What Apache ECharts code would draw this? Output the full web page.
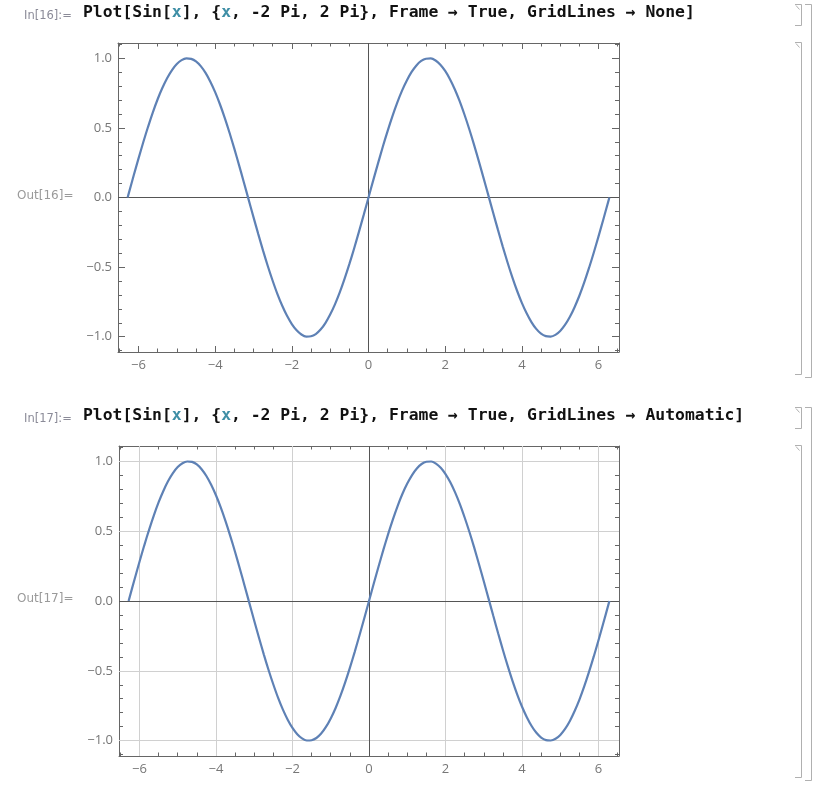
<!DOCTYPE html>
<html><head><meta charset="utf-8">
<script src="https://cdn.jsdelivr.net/npm/echarts@6/dist/echarts.min.js"></script>
<style>html,body{margin:0;padding:0;background:#fff}#c{width:815px;height:797px}</style>
</head><body><div id="c"></div>
<script>
// ---- data ----
const xValues = [
  -6.283, -6.25, -6.125, -6, -5.875, -5.75, -5.625, -5.5, -5.375, -5.25, -5.125, -5, -4.875, -4.75, -4.625, -4.5, -4.375, -4.25, -4.125, -4,
  -3.875, -3.75, -3.625, -3.5, -3.375, -3.25, -3.125, -3, -2.875, -2.75, -2.625, -2.5, -2.375, -2.25, -2.125, -2, -1.875, -1.75, -1.625, -1.5,
  -1.375, -1.25, -1.125, -1, -0.875, -0.75, -0.625, -0.5, -0.375, -0.25, -0.125,
  0, 0.125, 0.25, 0.375, 0.5, 0.625, 0.75, 0.875, 1, 1.125, 1.25, 1.375, 1.5, 1.625, 1.75, 1.875, 2, 2.125, 2.25, 2.375, 2.5, 2.625, 2.75, 2.875,
  3, 3.125, 3.25, 3.375, 3.5, 3.625, 3.75, 3.875, 4, 4.125, 4.25, 4.375, 4.5, 4.625, 4.75, 4.875, 5, 5.125, 5.25, 5.375, 5.5, 5.625, 5.75, 5.875,
  6, 6.125, 6.25, 6.283];
const sinValues = [
  0.000, 0.033, 0.158, 0.279, 0.397, 0.508, 0.612, 0.706, 0.788, 0.859, 0.916, 0.959, 0.987, 0.999, 0.996, 0.978, 0.944, 0.895, 0.832, 0.757,
  0.670, 0.572, 0.465, 0.351, 0.231, 0.108, -0.017, -0.141, -0.263, -0.382, -0.494, -0.598, -0.694, -0.778, -0.850, -0.909, -0.954, -0.984, -0.999, -0.997,
  -0.981, -0.949, -0.902, -0.841, -0.768, -0.682, -0.585, -0.479, -0.366, -0.247, -0.125,
  0.000, 0.125, 0.247, 0.366, 0.479, 0.585, 0.682, 0.768, 0.841, 0.902, 0.949, 0.981, 0.997, 0.999, 0.984, 0.954, 0.909, 0.850, 0.778, 0.694, 0.598, 0.494, 0.382, 0.263,
  0.141, 0.017, -0.108, -0.231, -0.351, -0.465, -0.572, -0.670, -0.757, -0.832, -0.895, -0.944, -0.978, -0.996, -0.999, -0.987, -0.959, -0.916, -0.859, -0.788, -0.706, -0.612, -0.508, -0.397,
  -0.279, -0.158, -0.033, 0.000];
const xMajorTicks = [-6, -4, -2, 0, 2, 4, 6];
const xMinorTicks = [-6.5, -5.5, -5, -4.5, -3.5, -3, -2.5, -1.5, -1, -0.5, 0.5, 1, 1.5, 2.5, 3, 3.5, 4.5, 5, 5.5, 6.5];
const yMajorTicks = [-1, -0.5, 0, 0.5, 1];
const yMinorTicks = [-1.1, -0.9, -0.8, -0.7, -0.6, -0.4, -0.3, -0.2, -0.1, 0.1, 0.2, 0.3, 0.4, 0.6, 0.7, 0.8, 0.9, 1.1];
const gridLinesX = [-6, -4, -2, 2, 4, 6];
const gridLinesY = [-1, -0.5, 0.5, 1];
const zeroLines = [0];
const inputLabels = ['In[16]:=', 'In[17]:='];
const outputLabels = ['Out[16]=', 'Out[17]='];
const codeEnds = ['None]', 'Automatic]'];
const showGrid = [false, true];

// ---- layout ----
const X_RANGE = [-6.534, 6.534];
const Y_RANGE = [-1.11, 1.11];
const gridsLayout = [
  {left: 118, top: 43, width: 501, height: 309},
  {left: 119, top: 446, width: 500, height: 310}
];
const FRAME = '#666666';
const LABEL = '#777777';
const minus = s => String(s).replace('-', '\u2212');

const chart = echarts.init(document.getElementById('c'), null, {renderer: 'canvas'});
const grid = [], xAxis = [], yAxis = [], series = [], graphic = [];

gridsLayout.forEach((g, gi) => {
  grid.push(Object.assign({containLabel: false}, g));
  const base = {gridIndex: gi, type: 'value', min: X_RANGE[0], max: X_RANGE[1], splitLine: {show: false}};
  const line = {show: true, onZero: false, lineStyle: {color: FRAME, width: 1}};
  const noLine = {show: false, onZero: false};
  const xi = xAxis.length;
  xAxis.push(Object.assign({}, base, {position: 'bottom', axisLine: line,
    axisTick: {show: true, inside: true, length: 6, customValues: xMajorTicks, lineStyle: {color: FRAME}},
    axisLabel: {show: true, customValues: xMajorTicks, formatter: v => minus(v), color: LABEL, fontSize: 13, fontFamily: 'Open Sans', margin: 7}}));
  xAxis.push(Object.assign({}, base, {position: 'bottom', axisLine: noLine,
    axisTick: {show: true, inside: true, length: 3.5, customValues: xMinorTicks, lineStyle: {color: FRAME}}, axisLabel: {show: false}}));
  xAxis.push(Object.assign({}, base, {position: 'top', axisLine: line,
    axisTick: {show: true, inside: true, length: 6, customValues: xMajorTicks, lineStyle: {color: FRAME}}, axisLabel: {show: false}}));
  xAxis.push(Object.assign({}, base, {position: 'top', axisLine: noLine,
    axisTick: {show: true, inside: true, length: 3.5, customValues: xMinorTicks, lineStyle: {color: FRAME}}, axisLabel: {show: false}}));

  const ybase = {gridIndex: gi, type: 'value', min: Y_RANGE[0], max: Y_RANGE[1], splitLine: {show: false}};
  const yi = yAxis.length;
  yAxis.push(Object.assign({}, ybase, {position: 'left', axisLine: line,
    axisTick: {show: true, inside: true, length: 7, customValues: yMajorTicks, lineStyle: {color: FRAME}},
    axisLabel: {show: true, customValues: yMajorTicks, formatter: v => minus(v.toFixed(1)), color: LABEL, fontSize: 13, fontFamily: 'Open Sans', margin: 6}}));
  yAxis.push(Object.assign({}, ybase, {position: 'left', axisLine: noLine,
    axisTick: {show: true, inside: true, length: 4, customValues: yMinorTicks, lineStyle: {color: FRAME}}, axisLabel: {show: false}}));
  yAxis.push(Object.assign({}, ybase, {position: 'right', axisLine: line,
    axisTick: {show: true, inside: true, length: 7, customValues: yMajorTicks, lineStyle: {color: FRAME}}, axisLabel: {show: false}}));
  yAxis.push(Object.assign({}, ybase, {position: 'right', axisLine: noLine,
    axisTick: {show: true, inside: true, length: 4, customValues: yMinorTicks, lineStyle: {color: FRAME}}, axisLabel: {show: false}}));

  // grid lines (plot 2 only)
  if (showGrid[gi]) {
    series.push({type: 'line', xAxisIndex: xi, yAxisIndex: yi, data: [], z: 1, silent: true,
      markLine: {silent: true, z: 1, symbol: 'none', label: {show: false},
        lineStyle: {color: '#d0d0d0', width: 1, type: 'solid'},
        data: gridLinesX.map(v => ({xAxis: v})).concat(gridLinesY.map(v => ({yAxis: v})))}});
  }
  // axes through origin
  series.push({type: 'line', xAxisIndex: xi, yAxisIndex: yi, data: [], z: 2, silent: true,
    markLine: {silent: true, z: 2, symbol: 'none', label: {show: false},
      lineStyle: {color: '#555555', width: 1, type: 'solid'},
      data: zeroLines.map(v => ({xAxis: v})).concat(zeroLines.map(v => ({yAxis: v})))}});
  // the curve
  series.push({type: 'line', xAxisIndex: xi, yAxisIndex: yi, z: 3,
    data: xValues.map((x, i) => [x, sinValues[i]]),
    showSymbol: false, smooth: 0.3, clip: true,
    lineStyle: {color: '#5E81B5', width: 2.2}});

  // notebook texts
  const dy = g.top - 43;
  graphic.push({type: 'text', left: 24, top: 10 + dy, style: {text: inputLabels[gi], fill: '#8b8b98', font: '11.5px "DejaVu Sans"'}});
  graphic.push({type: 'text', left: 83, top: 5 + dy, style: {
    text: 'Plot[Sin[{v|x}], {{v|x}, -2 Pi, 2 Pi}, Frame \u2192 True, GridLines \u2192 ' + codeEnds[gi],
    fill: '#111', font: 'bold 16.4px "DejaVu Sans Mono"',
    rich: {v: {fill: '#3f8fa6', font: 'bold 16.4px "DejaVu Sans Mono"'}}}});
  graphic.push({type: 'text', left: 17, top: g.top + g.height / 2 - 8, style: {text: outputLabels[gi], fill: '#9a9a9a', font: '12px "DejaVu Sans"'}});

  // cell brackets
  const br = '#b0b0b0';
  const inTop = 4.5 + dy, inBot = 25.5 + dy, outTop = 42.5 + dy, outBot = 374.5 + dy, grpBot = 377.5 + dy;
  graphic.push({type: 'polyline', shape: {points: [[795, inTop], [801.5, inTop], [801.5, inBot], [795, inBot]]}, style: {stroke: br, lineWidth: 1, fill: null}});
  graphic.push({type: 'line', shape: {x1: 796, y1: inTop + 1, x2: 799.5, y2: inTop + 5}, style: {stroke: br, lineWidth: 1}});
  graphic.push({type: 'polyline', shape: {points: [[795, outTop], [801.5, outTop], [801.5, outBot], [795, outBot]]}, style: {stroke: br, lineWidth: 1, fill: null}});
  graphic.push({type: 'line', shape: {x1: 796, y1: outTop + 1, x2: 799.5, y2: outTop + 5}, style: {stroke: br, lineWidth: 1}});
  graphic.push({type: 'polyline', shape: {points: [[805, inTop], [811.5, inTop], [811.5, grpBot], [805, grpBot]]}, style: {stroke: br, lineWidth: 1, fill: null}});
});

chart.setOption({animation: false, backgroundColor: '#fff', grid, xAxis, yAxis, series, graphic});
</script></body></html>
